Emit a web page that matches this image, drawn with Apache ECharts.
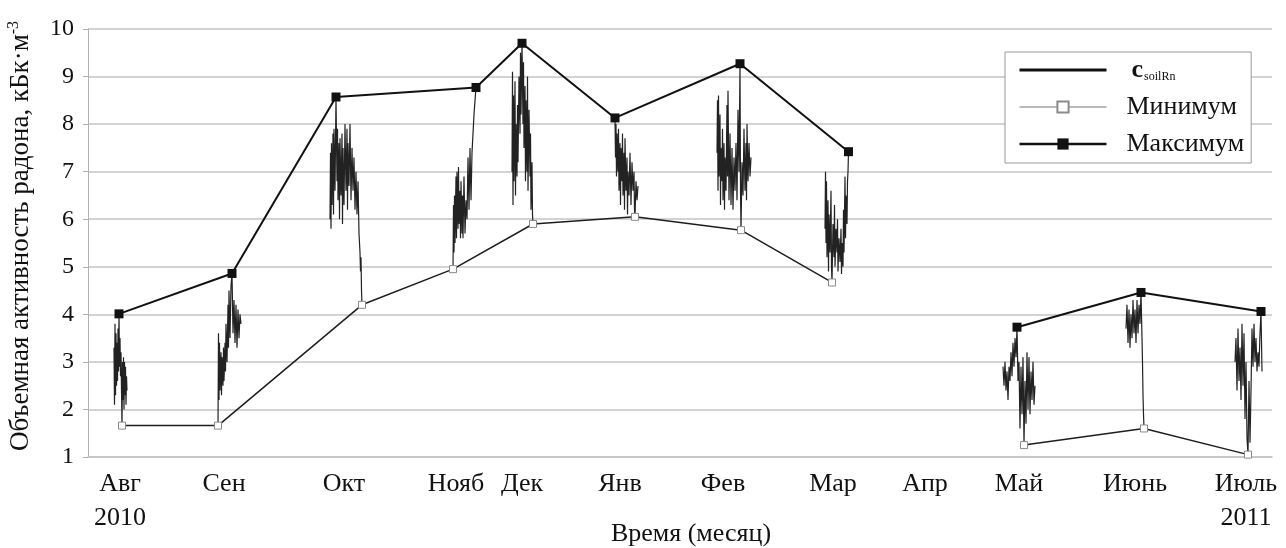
<!DOCTYPE html>
<html>
<head>
<meta charset="utf-8">
<script src="https://cdn.jsdelivr.net/npm/echarts@6/dist/echarts.min.js"></script>
<style>html,body{margin:0;padding:0;background:#fff}#c{width:1286px;height:548px}</style>
</head>
<body>
<div id="c"></div>
<script>
// Month tick positions (time index t) and labels
const monthT = [120, 224, 344, 456, 522, 620, 723, 833, 925, 1019, 1135, 1246];
const monthLabels = ['Авг\n2010', 'Сен', 'Окт', 'Нояб', 'Дек', 'Янв', 'Фев', 'Мар', 'Апр', 'Май', 'Июнь', 'Июль\n2011'];
const yTicks = [1, 2, 3, 4, 5, 6, 7, 8, 9, 10];

// Monthly maximum and minimum (null = no data in April)
const maxT = [119, 232, 336, 476, 522, 615, 740, 848.5, null, 1017, 1141, 1261];
const maxV = [4.01, 4.86, 8.57, 8.77, 9.70, 8.13, 9.27, 7.42, null, 3.73, 4.46, 4.06];
const minT = [122, 218, 362, 453, 533, 635, 741, 832, null, 1024, 1144, 1248];
const minV = [1.66, 1.66, 4.20, 4.95, 5.90, 6.05, 5.77, 4.67, null, 1.25, 1.60, 1.05];

// c_soilRn measured traces, one burst per month [t, value]
const burstAug = [[114,3.3],[114.5,2.1],[115,3.8],[115.5,2.3],[116,3.6],[116.5,2.5],[117,3.4],[117.5,2.6],[118,3.7],[118.5,2.8],[119,4.01],[119.5,2.9],[120,3.5],[120.5,2.7],[121,3.2],[121.5,2.4],[122,1.66],[122.5,3.0],[123,2.2],[123.5,3.1],[124,2.0],[124.5,3.0],[125,2.3],[125.5,2.9],[126,2.1],[126.5,2.7],[127,2.4]];
const burstSep = [[218,1.66],[218.5,3.6],[219,2.2],[219.5,3.4],[220,2.4],[221,3.2],[221.5,2.3],[222,3.1],[223,2.5],[223.5,3.3],[224,2.6],[225,3.4],[225.5,2.8],[226,3.8],[227,3.0],[228,4.2],[228.5,3.3],[229,4.5],[230,3.5],[231,4.6],[232,4.86],[233,3.6],[234,4.3],[235,3.4],[236,4.2],[237,3.3],[238,4.1],[239,3.5],[240,4.0],[241,3.8]];
const burstOct = [[330,6.0],[330.5,7.4],[331,5.8],[331.5,7.6],[332,6.3],[333,7.8],[333.5,6.1],[334,7.9],[335,6.6],[336,8.57],[337,6.8],[337.5,7.9],[338,6.4],[339,7.6],[339.5,6.0],[340,7.7],[341,6.5],[342,7.8],[342.5,5.9],[343,7.5],[344,6.3],[345,8.0],[346,6.6],[347,7.9],[347.5,6.2],[348,7.6],[349,6.7],[350,8.0],[351,6.4],[352,7.5],[353,6.6],[354,7.3],[355,6.2],[356,7.0],[357,6.1],[358,6.8],[359,5.7],[360,5.3],[360.5,4.9],[361,5.2],[361.5,4.5],[362,4.2]];
const burstNov = [[453,4.95],[453.5,6.3],[454,5.3],[454.5,6.5],[455,5.5],[456,6.9],[456.5,5.6],[457,7.0],[458,5.8],[458.5,7.1],[459,5.9],[460,6.6],[460.5,5.6],[461,6.8],[462,5.7],[462.5,6.5],[463,5.6],[464,6.9],[465,5.7],[466,6.4],[467,6.0],[468,7.3],[469,6.2],[470,7.5],[471,6.4],[472,7.4],[473,7.8],[474,8.2],[475,8.5],[476,8.77]];
const burstDec = [[512,7.0],[512.5,9.1],[513,6.3],[513.5,8.6],[514,6.8],[515,8.9],[515.5,6.5],[516,8.0],[517,6.9],[517.5,8.4],[518,7.2],[519,9.0],[520,7.8],[520.5,9.5],[521,8.2],[522,9.70],[523,8.0],[523.5,9.3],[524,7.5],[525,8.8],[525.5,6.8],[526,8.5],[527,7.0],[527.5,9.0],[528,6.6],[529,8.3],[530,6.9],[530.5,7.8],[531,6.2],[532,7.2],[532.5,6.1],[533,5.90]];
const burstJan = [[615,8.13],[615.5,7.3],[616,8.0],[616.5,6.9],[617,7.8],[618,7.0],[618.5,7.9],[619,6.6],[620,7.6],[620.5,6.3],[621,7.5],[622,6.8],[622.5,7.8],[623,6.5],[624,7.4],[624.5,6.2],[625,7.7],[626,6.6],[627,7.3],[627.5,6.1],[628,7.0],[629,6.5],[630,7.4],[631,6.3],[632,7.2],[633,6.6],[634,7.0],[634.5,6.2],[635,6.05],[636,6.8],[637,6.4],[638,6.7]];
const burstFeb = [[717,7.4],[717.5,8.5],[718,6.6],[718.5,8.6],[719,6.9],[720,8.2],[720.5,6.3],[721,7.5],[722,6.8],[722.5,7.9],[723,6.4],[724,7.6],[724.5,6.2],[725,7.3],[726,6.6],[727,8.4],[727.5,6.9],[728,8.7],[729,6.4],[730,7.8],[731,6.3],[732,7.5],[733,6.2],[734,7.3],[735,6.6],[736,7.6],[737,6.4],[738,8.3],[739,7.0],[740,9.27],[740.5,6.6],[741,5.77],[742,7.2],[743,6.5],[744,7.9],[745,6.6],[746,7.6],[746.5,6.4],[747,8.0],[748,6.8],[749,7.6],[750,6.9],[751,7.3]];
const burstMar = [[825,5.8],[825.5,7.0],[826,5.5],[826.5,6.8],[827,5.2],[828,6.4],[828.5,4.9],[829,6.1],[830,5.3],[831,6.6],[831.5,5.0],[832,4.67],[833,5.9],[834,5.2],[834.5,6.3],[835,5.0],[836,5.8],[837,5.3],[837.5,6.0],[838,4.9],[839,5.6],[840,5.1],[841,5.8],[841.5,4.85],[842,5.5],[843,5.0],[843.5,6.2],[844,5.3],[845,6.9],[845.5,5.6],[846,6.5],[847,5.9],[847.5,6.8],[848,7.0],[848.5,7.42]];
const burstMay = [[1003,2.9],[1004,2.5],[1005,3.0],[1006,2.4],[1007,2.8],[1008,2.2],[1009,2.9],[1010,2.6],[1011,3.2],[1012,2.7],[1013,3.4],[1014,2.9],[1015,3.5],[1016,3.1],[1017,3.73],[1018,2.6],[1019,3.0],[1020,1.6],[1021,2.9],[1022,1.9],[1023,3.1],[1024,1.25],[1025,2.6],[1026,1.7],[1027,3.2],[1028,2.0],[1029,3.1],[1030,1.9],[1031,2.8],[1032,2.2],[1033,3.0],[1034,2.1],[1035,2.5]];
const burstJun = [[1126,3.7],[1127,4.2],[1128,3.4],[1129,4.1],[1130,3.3],[1131,4.0],[1132,3.5],[1133,4.3],[1134,3.6],[1135,4.1],[1136,3.4],[1137,4.3],[1138,3.6],[1139,4.2],[1140,3.8],[1141,4.46],[1142,3.5],[1142.5,3.0],[1143,2.3],[1143.5,1.9],[1144,1.60]];
const burstJul = [[1235,3.0],[1236,3.5],[1237,2.4],[1238,3.7],[1239,2.6],[1240,3.3],[1241,2.2],[1242,3.8],[1243,2.5],[1244,3.6],[1245,1.8],[1246,3.0],[1247,1.4],[1248,1.05],[1249,2.6],[1250,1.3],[1251,2.4],[1252,3.7],[1253,2.9],[1254,3.8],[1255,3.0],[1256,3.5],[1257,2.8],[1258,3.2],[1259,2.9],[1260,3.6],[1261,4.06],[1262,2.8]];

const bursts = [burstAug, burstSep, burstOct, burstNov, burstDec, burstJan, burstFeb, burstMar, burstMay, burstJun, burstJul];
const traceData = [];
bursts.forEach((b, i) => { if (i) traceData.push(['-', '-']); b.forEach(p => traceData.push(p)); });
const pair = (ts, vs) => ts.map((t, i) => (t === null ? ['-', '-'] : [t, vs[i]]));

const FONT = 'Liberation Serif';
const chart = echarts.init(document.getElementById('c'), null, { renderer: 'canvas' });
chart.setOption({
  backgroundColor: '#fff',
  animation: false,
  grid: { left: 88, right: 14, top: 29, bottom: 91, containLabel: false, outerBoundsMode: 'none' },
  legend: {
    orient: 'vertical', left: 1005, top: 52,
    data: [
      { name: 'csoilRn', itemStyle: { opacity: 0 }, lineStyle: { width: 3, color: '#111' } },
      { name: 'Минимум', lineStyle: { width: 1.2, color: '#777' } },
      { name: 'Максимум', lineStyle: { width: 2.5, color: '#111' } }
    ],
    itemWidth: 87, itemHeight: 14, itemGap: 11,
    padding: [5, 7, 6, 13],
    borderColor: '#999', borderWidth: 1, backgroundColor: '#fff',
    textStyle: {
      fontFamily: FONT, fontSize: 26, color: '#111', lineHeight: 26, padding: [0, 0, 0, 15],
      rich: {
        c: { fontFamily: FONT, fontSize: 26, fontWeight: 'bold', color: '#111', lineHeight: 26, padding: [0, 0, 0, 5] },
        s: { fontFamily: FONT, fontSize: 12, color: '#111', verticalAlign: 'bottom', lineHeight: 16, padding: [0, 0, 0, 1] }
      }
    },
    formatter: n => (n === 'csoilRn' ? '{c|c}{s|soilRn}' : n)
  },
  xAxis: {
    type: 'value', min: 88, max: 1272,
    name: 'Время (месяц)', nameLocation: 'middle', nameGap: 64, nameMoveOverlap: false,
    nameTextStyle: { fontFamily: FONT, fontSize: 26, color: '#111', padding: [0, 0, 0, 22] },
    axisLine: { show: true, lineStyle: { color: '#c4c4c4', width: 1.5 } },
    axisTick: { show: false },
    splitLine: { show: false },
    axisLabel: {
      customValues: monthT, margin: 10,
      fontFamily: FONT, fontSize: 26, color: '#111', lineHeight: 34,
      formatter: v => { const i = monthT.indexOf(v); return i >= 0 ? monthLabels[i] : ''; }
    }
  },
  yAxis: {
    type: 'value', min: 1, max: 10, interval: 1,
    name: '{a|Объемная активность радона, кБк·м}{b|-3}', nameLocation: 'middle', nameGap: 52, nameMoveOverlap: false,
    nameTextStyle: {
      fontFamily: FONT, fontSize: 27, color: '#111', padding: [0, 0, 0, 14],
      rich: {
        a: { fontFamily: FONT, fontSize: 27, color: '#111', lineHeight: 30 },
        b: { fontFamily: FONT, fontSize: 16, color: '#111', verticalAlign: 'top', lineHeight: 16 }
      }
    },
    axisLine: { show: true, lineStyle: { color: '#b0b0b0', width: 1 } },
    axisTick: { show: true, length: 5, lineStyle: { color: '#b0b0b0' } },
    axisLabel: { fontFamily: FONT, fontSize: 24, color: '#111', margin: 14, formatter: v => (yTicks.includes(v) ? String(v) : '') },
    splitLine: { show: true, lineStyle: { color: '#c4c4c4', width: 1.5 } }
  },
  series: [
    {
      name: 'csoilRn', type: 'line', data: traceData, showSymbol: false, symbol: 'none',
      connectNulls: false, z: 2,
      lineStyle: { color: '#222', width: 1.2 }, itemStyle: { color: '#111' }
    },
    {
      name: 'Минимум', type: 'line', data: pair(minT, minV), connectNulls: false, z: 3,
      symbol: 'rect', symbolSize: 7, showAllSymbol: true,
      lineStyle: { color: '#1e1e1e', width: 1.5 },
      itemStyle: { color: '#fff', borderColor: '#8a8a8a', borderWidth: 1 }
    },
    {
      name: 'Максимум', type: 'line', data: pair(maxT, maxV), connectNulls: false, z: 4,
      symbol: 'rect', symbolSize: 9, showAllSymbol: true,
      lineStyle: { color: '#111', width: 2 },
      itemStyle: { color: '#111', borderColor: '#111', borderWidth: 0 }
    }
  ]
});
</script>
</body>
</html>
